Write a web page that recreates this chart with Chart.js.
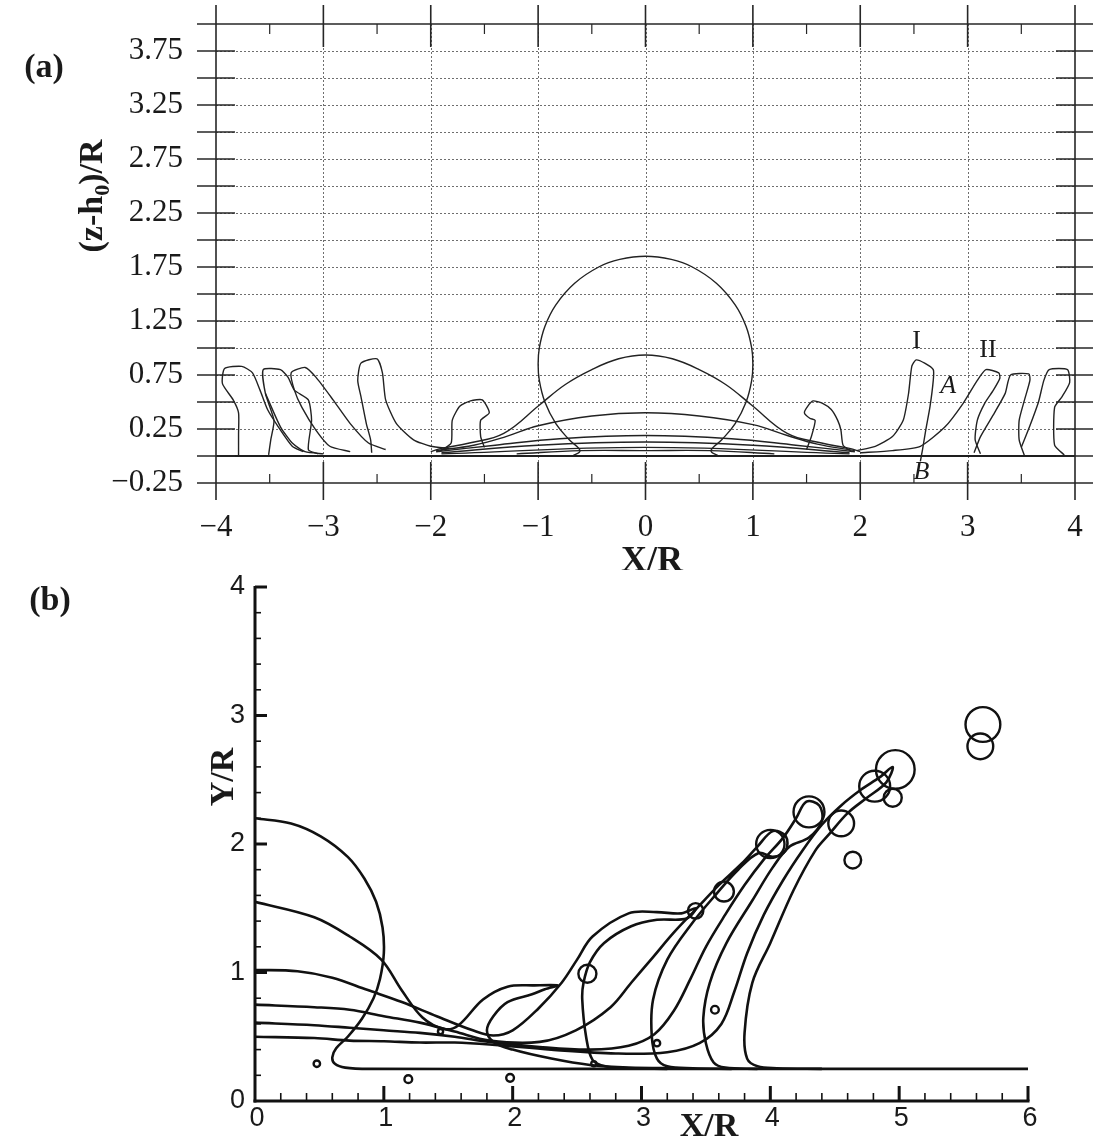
<!DOCTYPE html>
<html><head><meta charset="utf-8">
<script src="https://cdn.jsdelivr.net/npm/chart.js@4/dist/chart.umd.min.js"></script>
<style>
html,body{margin:0;padding:0;background:#fff;}
#wrap{position:relative;width:1093px;height:1146px;overflow:hidden;background:#fff;}
#ca{position:absolute;left:0;top:0;}
#cb{position:absolute;left:0;top:570px;}
</style></head><body>
<div id="wrap"><canvas id="ca" width="1093" height="570"></canvas><canvas id="cb" width="1093" height="576"></canvas></div>
<script>
// ================= Panel (a) data =================
const aXTicks = [-4,-3,-2,-1,0,1,2,3,4];
const aXTickLabels = ['\u22124','\u22123','\u22122','\u22121','0','1','2','3','4'];
const aYTicks = [3.75,3.25,2.75,2.25,1.75,1.25,0.75,0.25,-0.25];
const aYTickLabels = ['3.75','3.25','2.75','2.25','1.75','1.25','0.75','0.25','\u22120.25'];

const aFilm = [[-4,0],[4,0]];
const aDrop = [[0.68,0.0],[0.61,0.05],[0.71,0.15],[0.835,0.3],[0.937,0.5],[0.989,0.7],[1.0,0.85],[0.989,1.0],[0.937,1.2],[0.835,1.4],[0.66,1.6],[0.436,1.75],[0.24,1.82],[0,1.85],[-0.24,1.82],[-0.436,1.75],[-0.66,1.6],[-0.835,1.4],[-0.937,1.2],[-0.989,1.0],[-1.0,0.85],[-0.989,0.7],[-0.937,0.5],[-0.835,0.3],[-0.71,0.15],[-0.61,0.05],[-0.68,0.0]];
const aDome1 = [[-2.0,0.04],[-1.9,0.07],[-1.64,0.12],[-1.32,0.21],[-0.99,0.47],[-0.75,0.66],[-0.5,0.8],[-0.25,0.9],[0,0.935],[0.25,0.9],[0.5,0.8],[0.75,0.66],[0.99,0.47],[1.32,0.21],[1.64,0.12],[1.9,0.07],[2.0,0.04]];
const aDome2 = [[-1.95,0.05],[-1.6,0.1],[-1.3,0.18],[-1.0,0.28],[-0.5,0.37],[0,0.40],[0.5,0.37],[1.0,0.29],[1.32,0.19],[1.6,0.11],[1.95,0.05]];
const aDome3 = [[-1.95,0.04],[-1.4,0.1],[-0.8,0.16],[0,0.19],[0.8,0.16],[1.4,0.1],[1.95,0.04]];
const aDome4 = [[-1.9,0.03],[-1.0,0.1],[0,0.13],[1.0,0.1],[1.9,0.03]];
const aDome5 = [[-1.9,0.02],[0,0.08],[1.9,0.02]];
const aDome6 = [[-1.2,0.02],[-0.6,0.05],[0,0.05],[0.6,0.05],[1.2,0.02]];

const aCrownR1 = [[1.50,0.06],[1.545,0.18],[1.58,0.33],[1.53,0.35],[1.48,0.40],[1.51,0.46],[1.56,0.51],[1.645,0.49],[1.73,0.43],[1.79,0.33],[1.82,0.24],[1.84,0.10],[1.92,0.04]];
const aCrownR2 = [[1.97,0.05],[2.14,0.09],[2.30,0.18],[2.40,0.33],[2.45,0.58],[2.48,0.83],[2.52,0.89],[2.60,0.86],[2.68,0.80],[2.68,0.70],[2.65,0.46],[2.61,0.24],[2.58,0.06],[2.56,-0.05]];
const aCrownR3 = [[2.0,0.03],[2.3,0.05],[2.56,0.09],[2.79,0.27],[2.96,0.49],[3.09,0.70],[3.17,0.80],[3.29,0.77],[3.30,0.72],[3.24,0.61],[3.16,0.49],[3.09,0.33],[3.07,0.15],[3.12,0.02]];
const aCrownR4 = [[3.06,0.03],[3.12,0.18],[3.25,0.40],[3.35,0.58],[3.40,0.75],[3.57,0.76],[3.58,0.70],[3.53,0.52],[3.48,0.33],[3.48,0.15],[3.53,0.0]];
const aCrownR5 = [[3.50,0.08],[3.58,0.28],[3.66,0.50],[3.71,0.70],[3.76,0.80],[3.93,0.80],[3.95,0.68],[3.88,0.55],[3.81,0.45],[3.81,0.10],[3.9,0.01]];
const aCrownL1 = [[-1.92,0.04],[-1.81,0.12],[-1.80,0.33],[-1.73,0.46],[-1.63,0.51],[-1.52,0.52],[-1.455,0.40],[-1.535,0.33],[-1.535,0.18],[-1.50,0.08]];
const aCrownL2 = [[-1.83,0.07],[-2.0,0.09],[-2.16,0.15],[-2.32,0.30],[-2.42,0.52],[-2.45,0.77],[-2.50,0.90],[-2.65,0.86],[-2.68,0.70],[-2.65,0.55],[-2.60,0.30],[-2.56,0.15],[-2.55,0.03]];
const aCrownL3 = [[-2.42,0.06],[-2.58,0.12],[-2.75,0.30],[-2.91,0.52],[-3.07,0.73],[-3.17,0.82],[-3.30,0.77],[-3.27,0.61],[-3.2,0.45],[-3.07,0.24],[-2.94,0.09],[-2.75,0.04]];
const aCrownL4 = [[-3.05,0.02],[-3.14,0.06],[-3.11,0.33],[-3.14,0.52],[-3.27,0.61],[-3.33,0.73],[-3.40,0.80],[-3.56,0.80],[-3.54,0.58],[-3.46,0.33],[-3.49,0.15],[-3.51,0.01]];
const aCrownL4b = [[-3.54,0.58],[-3.4,0.27],[-3.29,0.12],[-3.17,0.04],[-3.0,0.02]];
const aCrownL5 = [[-3.79,0.0],[-3.79,0.2],[-3.79,0.40],[-3.84,0.52],[-3.94,0.67],[-3.92,0.81],[-3.76,0.83],[-3.66,0.77],[-3.59,0.61],[-3.52,0.43],[-3.42,0.27],[-3.29,0.09],[-3.19,0.04]];

const aSmooth = [aDrop, aDome1, aDome2, aDome3, aDome4, aDome5, aDome6];
const aCrowns = [aCrownR1, aCrownR2, aCrownR3, aCrownR4, aCrownR5, aCrownL1, aCrownL2, aCrownL3, aCrownL4, aCrownL4b, aCrownL5];

const aNoteText = ['I','II','A','B'];
const aNotePos = [[2.525,1.06],[3.19,0.98],[2.82,0.65],[2.57,-0.15]];

// ================= Panel (b) data =================
const bXTicks = [0,1,2,3,4,5,6];
const bXTickLabels = ['0','1','2','3','4','5','6'];
const bYTicks = [0,1,2,3,4];
const bYTickLabels = ['0','1','2','3','4'];

const bT1 = [[0,2.2],[0.28,2.16],[0.51,2.06],[0.72,1.9],[0.85,1.73],[0.94,1.55],[0.99,1.35],[1.0,1.15],[0.97,0.95],[0.92,0.8],[0.83,0.64],[0.72,0.5],[0.63,0.41],[0.6,0.34],[0.62,0.29],[0.7,0.26],[0.9,0.25],[2.5,0.25],[4.5,0.25],[6,0.25]];
const bT2 = [[0,1.55],[0.46,1.43],[0.735,1.28],[0.98,1.10],[1.14,0.86],[1.30,0.65],[1.47,0.56],[1.58,0.59],[1.77,0.79],[1.96,0.89],[2.17,0.90],[2.35,0.90],[2.25,0.87],[2.15,0.83],[1.96,0.77],[1.85,0.66],[1.80,0.55],[1.85,0.46],[2.0,0.40],[2.3,0.33],[2.6,0.28],[2.9,0.26],[3.3,0.255]];
const bT3 = [[0,1.02],[0.33,1.01],[0.60,0.96],[0.87,0.865],[1.14,0.77],[1.41,0.66],[1.69,0.55],[1.85,0.51],[2.0,0.55],[2.2,0.72],[2.38,0.92],[2.5,1.1],[2.62,1.28],[2.9,1.46],[3.12,1.47],[3.31,1.46],[3.42,1.5],[3.35,1.42],[3.12,1.41],[2.92,1.36],[2.71,1.23],[2.6,1.08],[2.55,0.92],[2.54,0.79],[2.57,0.5],[2.62,0.32],[2.72,0.27],[2.9,0.255],[3.2,0.25]];
const bT4 = [[0,0.75],[0.46,0.73],[0.735,0.71],[1.0,0.66],[1.28,0.61],[1.55,0.54],[1.82,0.47],[2.21,0.46],[2.49,0.55],[2.76,0.73],[2.92,0.92],[3.09,1.12],[3.25,1.31],[3.42,1.49],[3.6,1.68],[3.78,1.85],[3.9,1.98],[4.02,2.1],[4.12,2.06],[4.12,1.95],[4.02,1.9],[3.91,1.93],[3.75,1.8],[3.58,1.61],[3.39,1.38],[3.20,1.10],[3.09,0.79],[3.08,0.5],[3.12,0.33],[3.2,0.27],[3.4,0.255],[3.7,0.25]];
const bT5 = [[0,0.61],[0.46,0.59],[0.735,0.57],[1.0,0.55],[1.28,0.53],[1.55,0.50],[1.82,0.46],[2.21,0.42],[2.6,0.40],[2.9,0.43],[3.1,0.52],[3.25,0.7],[3.38,0.95],[3.5,1.2],[3.65,1.45],[3.8,1.68],[3.95,1.88],[4.1,2.05],[4.2,2.2],[4.28,2.33],[4.38,2.3],[4.4,2.18],[4.3,2.05],[4.15,1.98],[4.02,1.82],[3.86,1.56],[3.66,1.23],[3.53,0.92],[3.48,0.65],[3.50,0.45],[3.56,0.3],[3.65,0.26],[3.9,0.25]];
const bT6 = [[0,0.5],[0.46,0.49],[0.735,0.47],[1.0,0.465],[1.28,0.455],[1.55,0.455],[1.82,0.44],[2.3,0.40],[2.8,0.37],[3.2,0.38],[3.45,0.45],[3.62,0.6],[3.72,0.85],[3.82,1.15],[3.95,1.45],[4.1,1.72],[4.25,1.95],[4.4,2.15],[4.55,2.3],[4.7,2.42],[4.85,2.52],[4.95,2.6],[4.9,2.48],[4.75,2.36],[4.6,2.24],[4.46,2.08],[4.35,1.95],[4.18,1.64],[4.0,1.23],[3.86,0.92],[3.80,0.53],[3.82,0.33],[3.9,0.27],[4.05,0.255],[4.4,0.25]];
const bCurves = [bT1, bT2, bT3, bT4, bT5, bT6];

const bDropletPts = [[0.48,0.29],[1.19,0.17],[1.98,0.18],[1.44,0.54],[2.58,0.99],[2.63,0.29],[3.12,0.45],[3.57,0.71],[3.42,1.48],[3.64,1.63],[4.0,2.0],[4.3,2.25],[4.64,1.875],[4.55,2.16],[4.81,2.45],[4.95,2.36],[4.97,2.58],[5.65,2.93],[5.63,2.76]];
const bDropletR = [0.025,0.03,0.03,0.02,0.07,0.02,0.025,0.03,0.06,0.077,0.11,0.12,0.065,0.10,0.12,0.07,0.15,0.135,0.10];

// ================= helpers =================
const toXY = arr => arr.map(p => ({x:p[0], y:p[1]}));
function seg(ctx,x1,y1,x2,y2){ctx.beginPath();ctx.moveTo(x1,y1);ctx.lineTo(x2,y2);ctx.stroke();}

// ================= Chart (a) =================
const frameA = {
  id:'frameA',
  beforeDatasetsDraw(chart){
    const ctx = chart.ctx, x = chart.scales.x, y = chart.scales.y;
    const L=x.getPixelForValue(-4), R=x.getPixelForValue(4), T=y.getPixelForValue(4), B=y.getPixelForValue(-0.25);
    ctx.save();
    ctx.strokeStyle='#6e6e6e'; ctx.lineWidth=1; ctx.setLineDash([2,2]);
    for (let v=-3; v<=3; v++){ const px=Math.round(x.getPixelForValue(v))+0.5; seg(ctx,px,T,px,B); }
    for (let k=1; k<=15; k++){ const py=Math.round(y.getPixelForValue(k*0.25))+0.5; seg(ctx,L,py,R,py); }
    ctx.restore();
  },
  afterDraw(chart){
    const ctx = chart.ctx, x = chart.scales.x, y = chart.scales.y;
    const L=x.getPixelForValue(-4), R=x.getPixelForValue(4), T=y.getPixelForValue(4), B=y.getPixelForValue(-0.25);
    ctx.save();
    ctx.strokeStyle='#262626'; ctx.lineWidth=1.6; ctx.setLineDash([]);
    seg(ctx,L-19,T,R+18,T); seg(ctx,L-19,B,R+18,B);
    seg(ctx,L,T-19,L,B+17); seg(ctx,R,T-19,R,B+17);
    for (let v=-3; v<=3; v++){ const px=x.getPixelForValue(v); seg(ctx,px,T-19,px,T+23); seg(ctx,px,B-21,px,B+17); }
    ctx.lineWidth=1.2;
    for (let v=-3.5; v<=3.5; v+=1){ const px=x.getPixelForValue(v); seg(ctx,px,T,px,T+10); seg(ctx,px,B-9,px,B); }
    ctx.lineWidth=1.6;
    for (let k=0; k<=15; k++){ const py=y.getPixelForValue(k*0.25); seg(ctx,L-19,py,L+19,py); seg(ctx,R-19,py,R+18,py); }
    ctx.fillStyle='#1a1a1a';
    ctx.font='31px "Liberation Serif", "Times New Roman", serif';
    ctx.textAlign='center'; ctx.textBaseline='middle';
    aXTicks.forEach((v,i)=>{ ctx.fillText(aXTickLabels[i], x.getPixelForValue(v), B+45); });
    ctx.textAlign='right';
    aYTicks.forEach((v,i)=>{ ctx.fillText(aYTickLabels[i], 183, y.getPixelForValue(v)); });
    ctx.textAlign='center';
    aNoteText.forEach((t,i)=>{
      ctx.font = (t==='A'||t==='B' ? 'italic ' : '') + '26px "Liberation Serif", serif';
      ctx.fillText(t, x.getPixelForValue(aNotePos[i][0]), y.getPixelForValue(aNotePos[i][1]));
    });
    ctx.font='bold 36px "Liberation Serif", serif';
    ctx.fillText('X/R', 652, 562);
    ctx.font='bold 34px "Liberation Serif", serif';
    ctx.fillText('(a)', 44, 68);
    ctx.translate(90, 196); ctx.rotate(-Math.PI/2);
    const big='bold 34px "Liberation Serif", serif', sub='bold 22px "Liberation Serif", serif';
    ctx.font=big; const w1=ctx.measureText('(z-h').width, w3=ctx.measureText(')/R').width;
    ctx.font=sub; const w2=ctx.measureText('0').width;
    const tot=w1+w2+w3; let sx=-tot/2;
    ctx.textAlign='left'; ctx.textBaseline='alphabetic';
    ctx.font=big; ctx.fillText('(z-h', sx, 12); sx+=w1;
    ctx.font=sub; ctx.fillText('0', sx, 19); sx+=w2;
    ctx.font=big; ctx.fillText(')/R', sx, 12);
    ctx.restore();
  }
};

const aDatasets = [];
aDatasets.push({data:toXY(aFilm), showLine:true, pointRadius:0, borderColor:'#1e1e1e', borderWidth:1.8, tension:0});
aSmooth.forEach(c=>aDatasets.push({data:toXY(c), showLine:true, pointRadius:0, borderColor:'#222', borderWidth:1.4, tension:0.4}));
aCrowns.forEach(c=>aDatasets.push({data:toXY(c), showLine:true, pointRadius:0, borderColor:'#222', borderWidth:1.4, tension:0.2}));

new Chart(document.getElementById('ca'), {
  type:'scatter',
  data:{datasets:aDatasets},
  options:{
    responsive:false, animation:false, devicePixelRatio:1,
    layout:{padding:{left:216, right:18, top:24, bottom:87}},
    plugins:{legend:{display:false}, tooltip:{enabled:false}},
    scales:{
      x:{type:'linear', min:-4, max:4, display:false},
      y:{type:'linear', min:-0.25, max:4, display:false}
    }
  },
  plugins:[frameA]
});

// ================= Chart (b) =================
const frameB = {
  id:'frameB',
  afterDraw(chart){
    const ctx = chart.ctx, x = chart.scales.x, y = chart.scales.y;
    const L=x.getPixelForValue(0), R=x.getPixelForValue(6), T=y.getPixelForValue(4), B=y.getPixelForValue(0);
    ctx.save();
    ctx.strokeStyle='#111'; ctx.lineCap='butt';
    ctx.lineWidth=3;
    seg(ctx,L,T-1,L,B+1.5); seg(ctx,L-1.5,B,R+1.5,B);
    for (let v=1; v<=4; v++){ const py=y.getPixelForValue(v); seg(ctx,L,py,L+12,py); }
    for (let v=1; v<=6; v++){ const px=x.getPixelForValue(v); seg(ctx,px,B,px,B-15); }
    ctx.lineWidth=1.6;
    for (let k=1; k<20; k++){ if (k%5===0) continue; const py=y.getPixelForValue(k*0.2); seg(ctx,L,py,L+6,py); }
    for (let k=1; k<30; k++){ if (k%5===0) continue; const px=x.getPixelForValue(k*0.2); seg(ctx,px,B,px,B-8); }
    ctx.fillStyle='#1a1a1a';
    ctx.font='27px "Liberation Sans", Arial, sans-serif';
    ctx.textAlign='center'; ctx.textBaseline='middle';
    bXTicks.forEach((v,i)=>{ ctx.fillText(bXTickLabels[i], x.getPixelForValue(v)+2, B+18); });
    ctx.textAlign='right';
    bYTicks.forEach((v,i)=>{ ctx.fillText(bYTickLabels[i], L-10, y.getPixelForValue(v)); });
    ctx.textAlign='center';
    ctx.font='bold 34px "Liberation Serif", serif';
    ctx.fillText('X/R', 709, 557);
    ctx.fillText('(b)', 50, 31);
    ctx.translate(224, 207); ctx.rotate(-Math.PI/2);
    ctx.fillText('Y/R', 0, 0);
    ctx.restore();
  }
};

const bDatasets = [];
bCurves.forEach(c=>bDatasets.push({data:toXY(c), showLine:true, pointRadius:0, borderColor:'#111', borderWidth:2.6, tension:0.35}));
bDatasets.push({
  data:toXY(bDropletPts), showLine:false, pointStyle:'circle',
  pointRadius: ctx => { const s=ctx.chart.scales.x; return bDropletR[ctx.dataIndex]*Math.abs(s.getPixelForValue(1)-s.getPixelForValue(0)); },
  pointHoverRadius: ctx => { const s=ctx.chart.scales.x; return bDropletR[ctx.dataIndex]*Math.abs(s.getPixelForValue(1)-s.getPixelForValue(0)); },
  pointBackgroundColor:'rgba(0,0,0,0)', pointBorderColor:'#111', pointBorderWidth:2.4
});

new Chart(document.getElementById('cb'), {
  type:'scatter',
  data:{datasets:bDatasets},
  options:{
    responsive:false, animation:false, devicePixelRatio:1,
    layout:{padding:{left:255, right:65, top:17, bottom:45}},
    plugins:{legend:{display:false}, tooltip:{enabled:false}},
    scales:{
      x:{type:'linear', min:0, max:6, display:false},
      y:{type:'linear', min:0, max:4, display:false}
    }
  },
  plugins:[frameB]
});
</script>
</body></html>
